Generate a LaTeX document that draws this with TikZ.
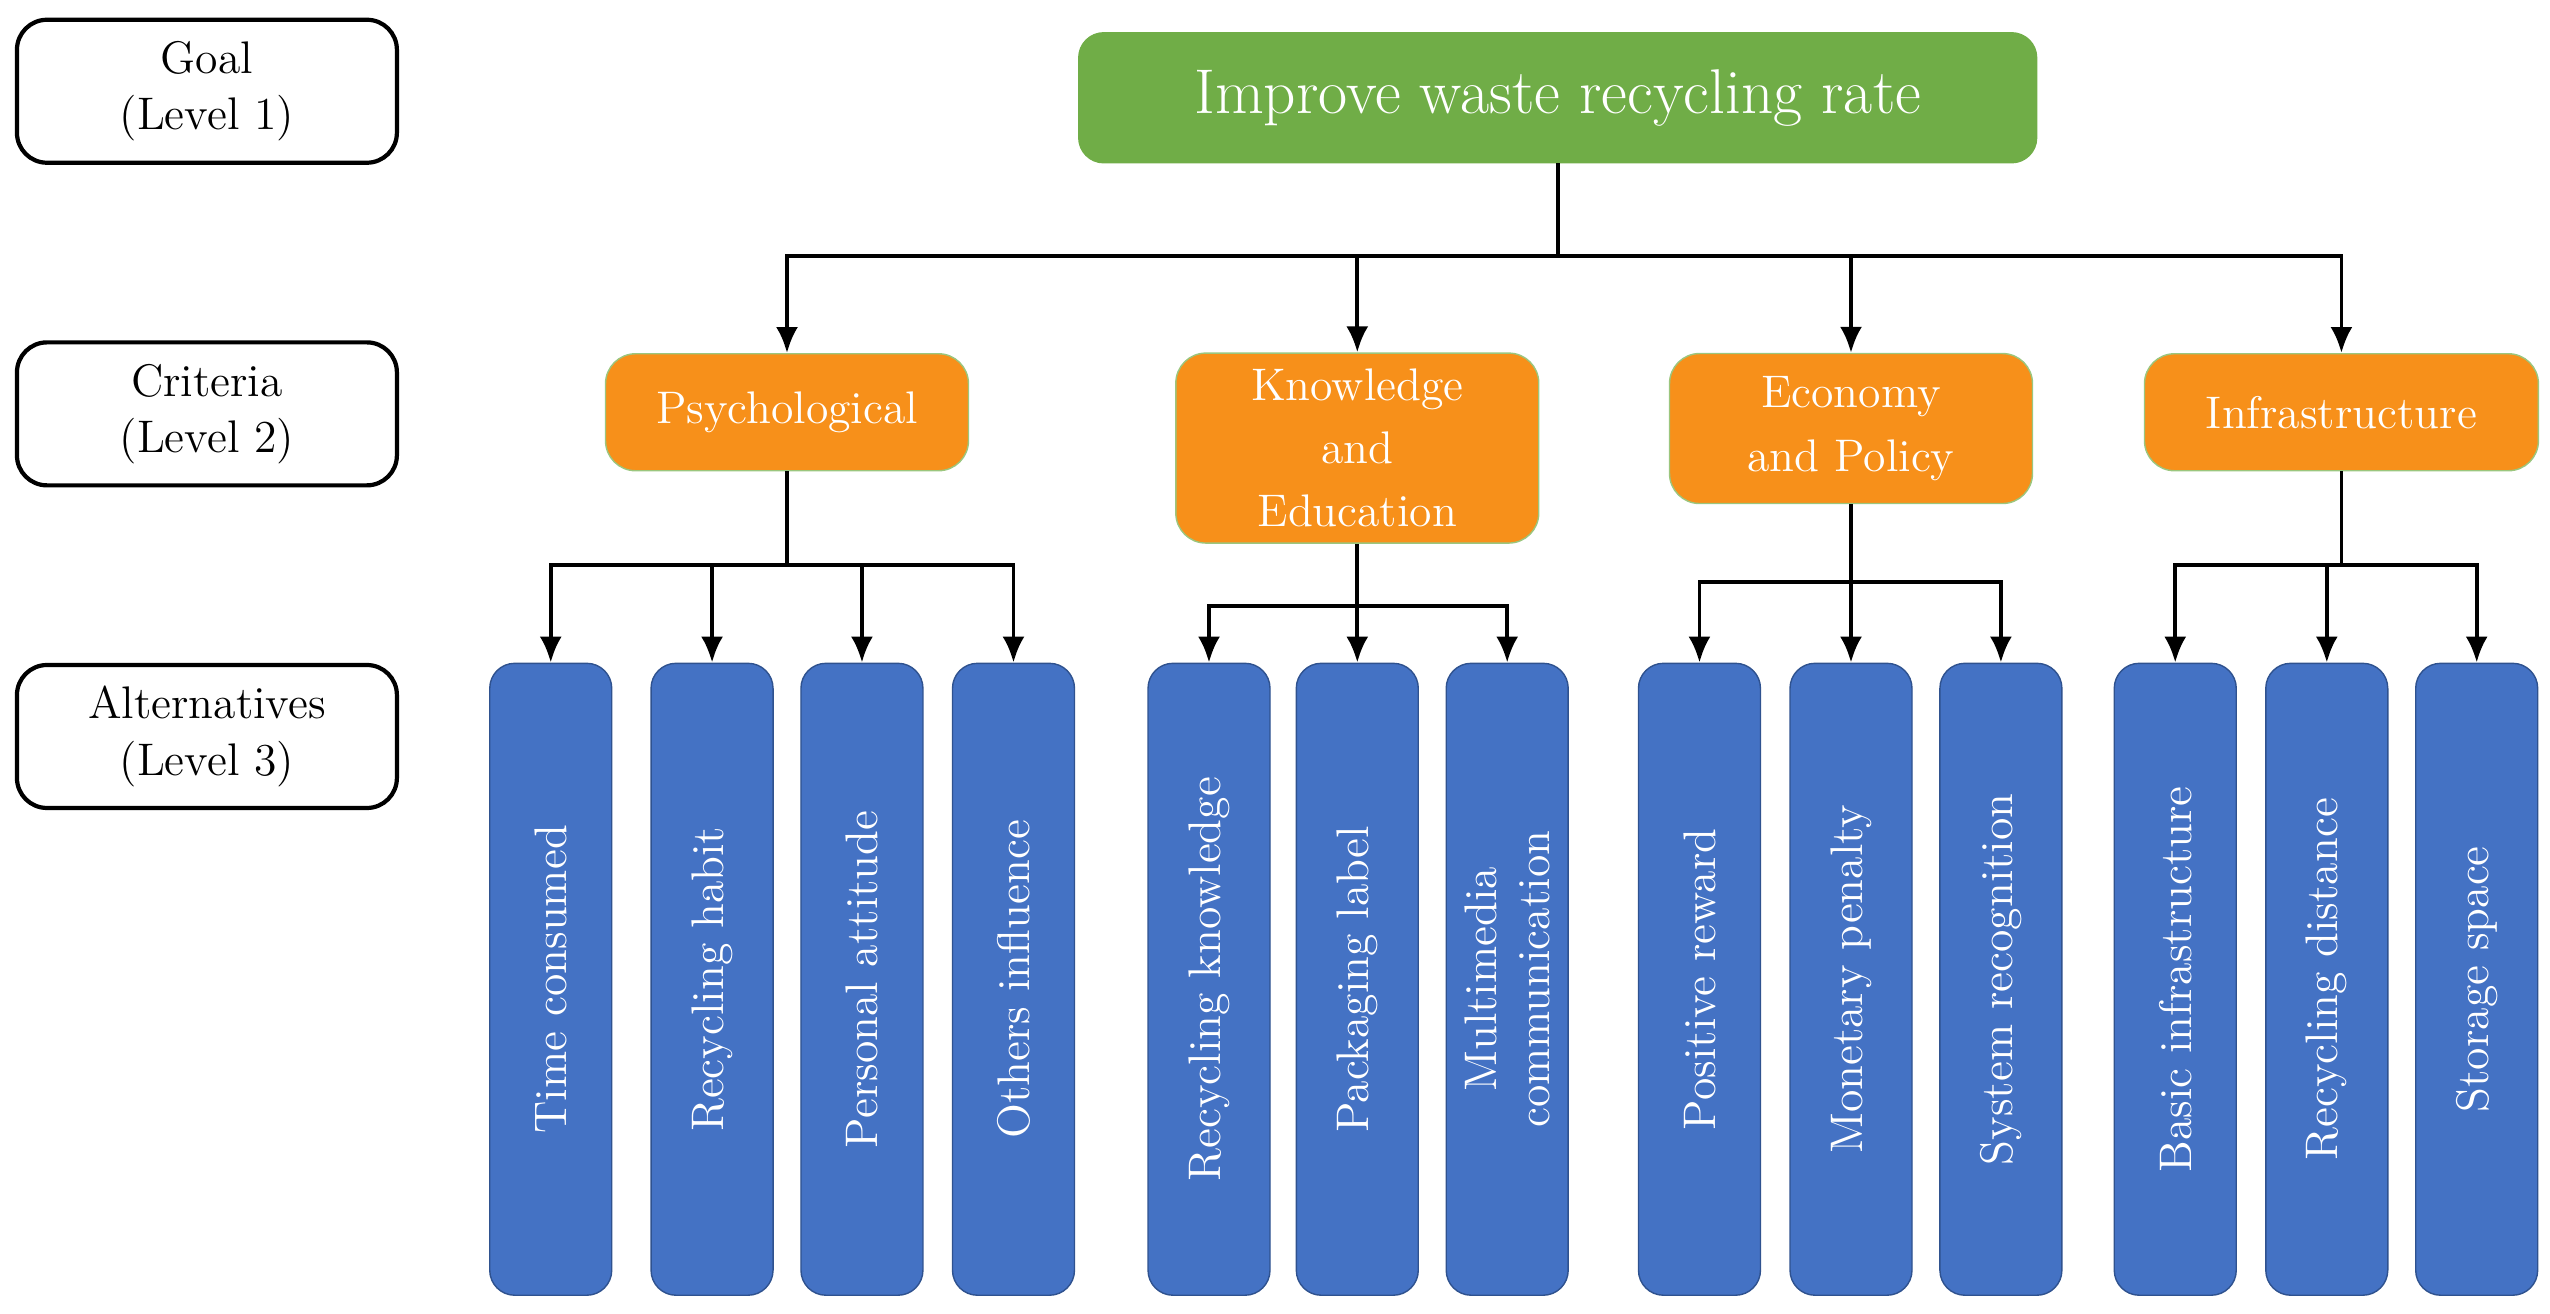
\documentclass[tikz,border=0pt]{standalone}
\usetikzlibrary{arrows.meta,calc}
\definecolor{goalgreen}{HTML}{70AD47}
\definecolor{critorange}{HTML}{F7901A}
\definecolor{altblue}{HTML}{4472C4}
\definecolor{altedge}{HTML}{2F528F}
\begin{document}
\begin{tikzpicture}[
    x=0.0163cm, y=-0.0163cm,
    level/.style={draw, rounded corners=3mm, line width=1.2pt, align=center,
        minimum width=3.8cm, minimum height=1.43cm, font=\fontsize{13}{16}\selectfont},
    goal/.style={fill=goalgreen, draw=goalgreen, rounded corners=2.5mm, text=white,
        minimum width=9.58cm, minimum height=1.3cm, font=\fontsize{18}{20}\selectfont},
    crit/.style={fill=critorange, draw=goalgreen!70, rounded corners=3mm, text=white,
        align=center, minimum width=3.63cm, font=\fontsize{13}{18}\selectfont},
    alt/.style={fill=altblue, draw=altedge, rounded corners=2.5mm, text=white,
        rotate=90, align=center, minimum width=6.32cm, minimum height=1.22cm,
        inner sep=1pt, font=\fontsize{13}{15}\selectfont},
    arrow/.style={-{Latex[length=2.6mm,width=2.2mm]}, line width=1.1pt},
    line/.style={line width=1.1pt}
]
\useasboundingbox (0,0) rectangle (1565,806);

% level labels
\node[level] (l1) at (127,56) {Goal\\(Level 1)};
\node[level] (l2) at (127,254) {Criteria\\(Level 2)};
\node[level] (l3) at (127,452) {Alternatives\\(Level 3)};

% goal
\node[goal] (goal) at (956,60) {Improve waste recycling rate};

% criteria
\node[crit, minimum height=1.17cm] (psy) at (483,253) {Psychological};
\node[crit, minimum height=1.9cm] (kno) at (833,275) {Knowledge\\and\\Education};
\node[crit, minimum height=1.5cm] (eco) at (1136,263) {Economy\\and Policy};
\node[crit, minimum height=1.17cm, minimum width=3.94cm] (inf) at (1437,253) {Infrastructure};

% alternatives
\node[alt] (a1) at (338,601) {Time consumed};
\node[alt] (a2) at (437,601) {Recycling habit};
\node[alt] (a3) at (529,601) {Personal attitude};
\node[alt] (a4) at (622,601) {Others influence};
\node[alt] (a5) at (742,601) {Recycling knowledge};
\node[alt] (a6) at (833,601) {Packaging label};
\node[alt] (a7) at (925,601) {Multimedia\\communication};
\node[alt] (a8) at (1043,601) {Positive reward};
\node[alt] (a9) at (1136,601) {Monetary penalty};
\node[alt] (a10) at (1228,601) {System recognition};
\node[alt] (a11) at (1335,601) {Basic infrastructure};
\node[alt] (a12) at (1428,601) {Recycling distance};
\node[alt] (a13) at (1520,601) {Storage space};

% junctions
\coordinate (hub) at (956,157);
\coordinate (bp) at (483,347);
\coordinate (bk) at (833,372);
\coordinate (be) at (1136,357);
\coordinate (bi) at (1437,347);

% connectors
\draw[line] (goal.south) -- (hub);
\foreach \c in {psy,kno,eco,inf} \draw[arrow] (hub) -| (\c.north);
\draw[line] (psy.south) -- (bp);
\foreach \a in {a1,a2,a3,a4} \draw[arrow] (bp) -| (\a.east);
\draw[line] (kno.south) -- (bk);
\foreach \a in {a5,a6,a7} \draw[arrow] (bk) -| (\a.east);
\draw[line] (eco.south) -- (be);
\foreach \a in {a8,a9,a10} \draw[arrow] (be) -| (\a.east);
\draw[line] (inf.south) -- (bi);
\foreach \a in {a11,a12,a13} \draw[arrow] (bi) -| (\a.east);
\end{tikzpicture}
\end{document}
